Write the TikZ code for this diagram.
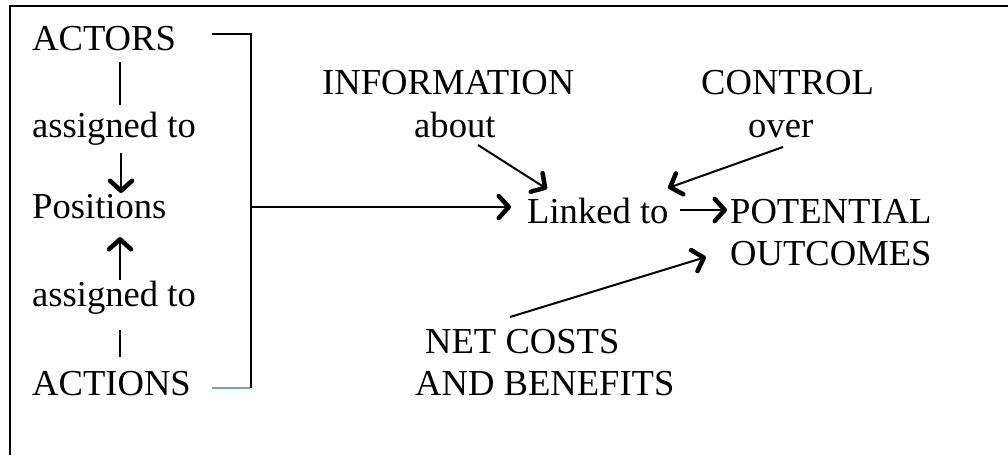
\documentclass[tikz,border=0pt]{standalone}
\usepackage{fontspec}
\setmainfont{Liberation Serif}
\usetikzlibrary{arrows.meta}
\definecolor{bluish}{RGB}{120,160,210}
\tikzset{
  lbl/.style={inner sep=0pt, anchor=base west, font=\fontsize{36.6}{42}\selectfont},
  frame/.style={line width=2pt},
  thin/.style={line width=1.2pt},
  arr/.style={line width=2pt, -{Straight Barb[length=10pt, width=22pt, line width=4.5pt 0, round]}}
}
\begin{document}
\begin{tikzpicture}[x=1pt,y=-1pt]
\useasboundingbox (0,0) rectangle (1008,455);
% frame (top and left edges visible)
\draw[frame] (1008,6) -- (10,6) -- (10,455);
% left column
\node[lbl] (actors) at (32,50) {ACTORS};
\node[lbl] (asg1) at (32,137) {assigned to};
\node[lbl] (positions) at (32,218) {Positions};
\node[lbl] (asg2) at (32,306) {assigned to};
\node[lbl] (actions) at (32,395) {ACTIONS};
% middle/right texts
\node[lbl] (info) at (322,94) {INFORMATION};
\node[lbl] (about) at (414,137) {about};
\node[lbl] (control) at (701,94) {CONTROL};
\node[lbl] (over) at (748,137) {over};
\node[lbl] (linked) at (527,223) {Linked to};
\node[lbl] (potential) at (730,223) {POTENTIAL};
\node[lbl] (outcomes) at (730,265) {OUTCOMES};
\node[lbl] (netcosts) at (425,353) {NET COSTS};
\node[lbl] (benefits) at (415,395) {AND BENEFITS};
% coordinates
\coordinate (a1) at (120,62);
\coordinate (a2) at (120,105);
\coordinate (d1) at (121,153);
\coordinate (d2) at (121,193);
\coordinate (u1) at (120,280);
\coordinate (u2) at (120,237);
\coordinate (b1) at (120,330);
\coordinate (b2) at (120,357);
\coordinate (btl) at (212,34);
\coordinate (btr) at (251,34);
\coordinate (bbl) at (212,388);
\coordinate (bbr) at (251,388);
\coordinate (bmid) at (251,207);
\coordinate (lin) at (511,207);
\coordinate (i1) at (478,145);
\coordinate (i2) at (547,189);
\coordinate (c1) at (783,147);
\coordinate (c2) at (668,188);
\coordinate (l1) at (680,210);
\coordinate (l2) at (727,210);
\coordinate (n1) at (510,317);
\coordinate (n2) at (706,257);
% left column connectors
\draw[thin] (a1) -- (a2);
\draw[arr] (d1) -- (d2);
\draw[arr] (u1) -- (u2);
\draw[thin] (b1) -- (b2);
% bracket
\draw[frame] (btl) -- (btr) -- (bbr);
\draw[line width=1.5pt, bluish] (bbl) -- ([xshift=-1pt]bbr);
\draw[arr] (bmid) -- (lin);
% right side arrows
\draw[arr] (i1) -- (i2);
\draw[arr] (c1) -- (c2);
\draw[arr] (l1) -- (l2);
\draw[arr] (n1) -- (n2);
\end{tikzpicture}
\end{document}
